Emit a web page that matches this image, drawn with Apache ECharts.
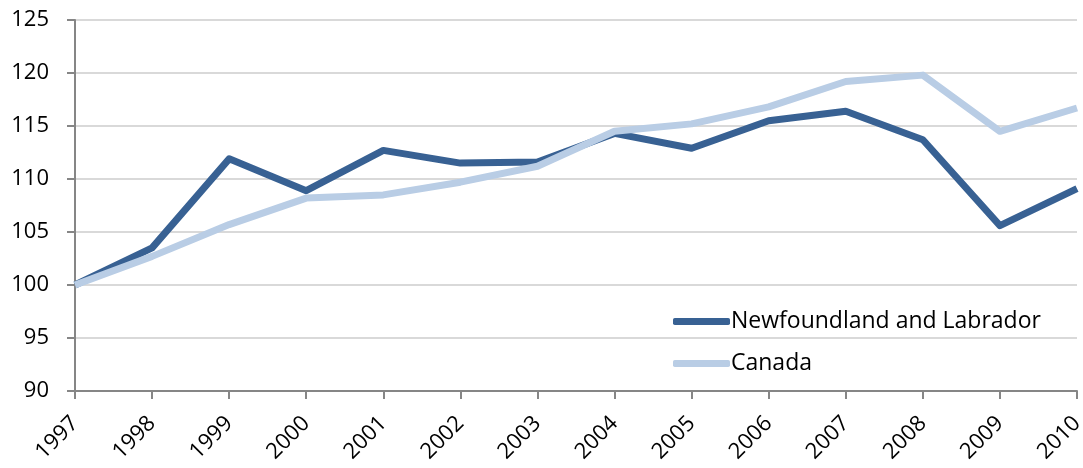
<!DOCTYPE html>
<html>
<head>
<meta charset="utf-8">
<script src="https://cdn.jsdelivr.net/npm/echarts@6/dist/echarts.min.js"></script>
<style>
    html, body { margin: 0; padding: 0; background: #fff; }
    #chart { width: 1083px; height: 468px; }
</style>
</head>
<body>
<div id="chart"></div>
<script>
var years = ['1997', '1998', '1999', '2000', '2001', '2002', '2003', '2004', '2005', '2006', '2007', '2008', '2009', '2010'];
var nlValues = [100, 103.5, 111.9, 108.9, 112.7, 111.5, 111.6, 114.3, 112.9, 115.5, 116.4, 113.7, 105.6, 109.1];
var canadaValues = [100, 102.7, 105.7, 108.2, 108.5, 109.7, 111.2, 114.5, 115.2, 116.8, 119.2, 119.8, 114.5, 116.7];

var font = 'Open Sans';
var chart = echarts.init(document.getElementById('chart'));

chart.setOption({
    animation: false,
    grid: { left: 75, right: 6, top: 20, bottom: 77, outerBoundsMode: 'none' },
    legend: {
        orient: 'vertical',
        left: 668,
        top: 305,
        itemWidth: 57,
        itemHeight: 7,
        itemGap: 19,
        icon: 'roundRect',
        textStyle: { fontFamily: font, fontSize: 23, color: '#000', padding: [0, 0, 0, -4] },
        data: ['Newfoundland and Labrador', 'Canada']
    },
    xAxis: {
        type: 'category',
        data: years,
        boundaryGap: false,
        axisLine: { lineStyle: { color: '#868686', width: 2 } },
        axisTick: { alignWithLabel: true, length: 8, lineStyle: { color: '#868686', width: 2 } },
        axisLabel: { rotate: 45, fontFamily: font, fontSize: 22, color: '#000', margin: 29 }
    },
    yAxis: {
        type: 'value',
        min: 90,
        max: 125,
        interval: 5,
        axisLine: { show: true, lineStyle: { color: '#868686', width: 2 } },
        axisTick: { show: true, length: 8, lineStyle: { color: '#868686', width: 2 } },
        axisLabel: { fontFamily: font, fontSize: 22, color: '#000', margin: 26 },
        splitLine: { lineStyle: { color: '#d9d9d9', width: 2 } }
    },
    series: [
        {
            name: 'Newfoundland and Labrador',
            type: 'line',
            data: nlValues,
            symbol: 'none',
            color: '#386193',
            lineStyle: { width: 7, color: '#386193', join: 'round' }
        },
        {
            name: 'Canada',
            type: 'line',
            data: canadaValues,
            symbol: 'none',
            color: '#b9cde5',
            lineStyle: { width: 7, color: '#b9cde5', join: 'round' }
        }
    ]
});
</script>
</body>
</html>
